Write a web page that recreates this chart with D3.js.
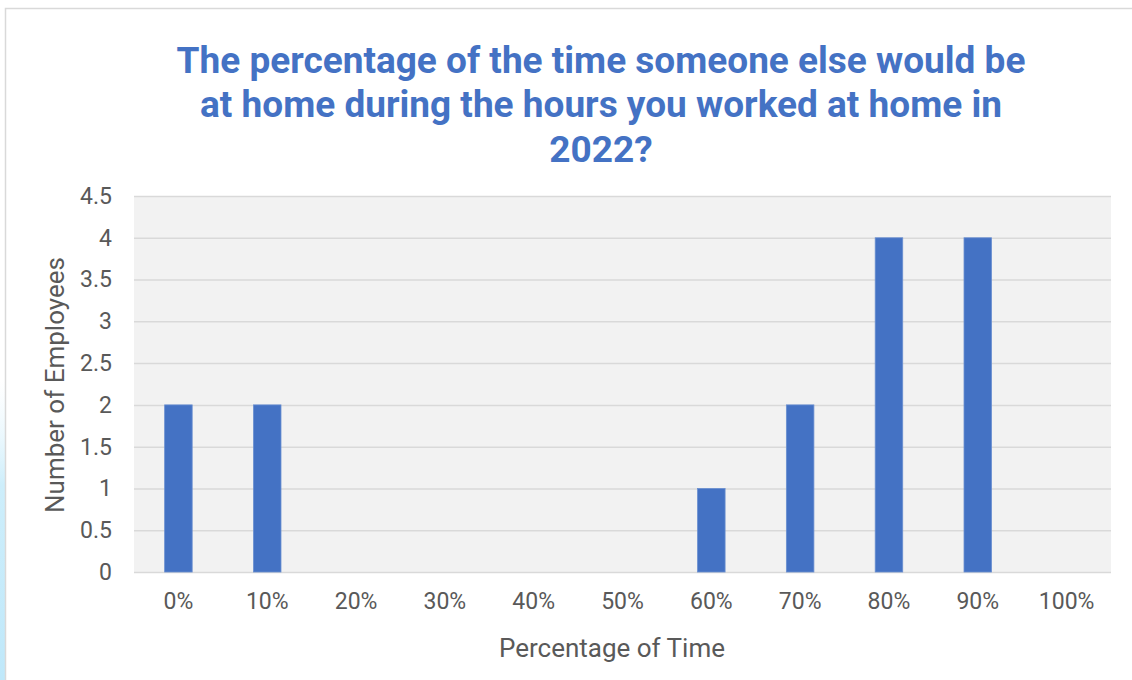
<!DOCTYPE html>
<html>
<head>
<meta charset="utf-8">
<script src="https://cdn.jsdelivr.net/npm/d3@7"></script>
<style>
  html, body { margin: 0; padding: 0; background: #ffffff; }
  svg { display: block; font-family: Roboto, "Open Sans", sans-serif; }
</style>
</head>
<body>
<svg id="chart" width="1132" height="680"></svg>
<script>
// Share of time someone else was at home, and how many employees gave each answer
const categories = ["0%", "10%", "20%", "30%", "40%", "50%", "60%", "70%", "80%", "90%", "100%"];
const employees = [2, 2, 0, 0, 0, 0, 1, 2, 4, 4, 0];
const yTicks = [0, 0.5, 1, 1.5, 2, 2.5, 3, 3.5, 4, 4.5];
const titleLines = [
  "The percentage of the time someone else would be",
  "at home during the hours you worked at home in",
  "2022?"
];
const xTitle = "Percentage of Time";
const yTitle = "Number of Employees";

const svg = d3.select("#chart");
const W = 1132, H = 680;
const plot = { left: 134, right: 1111, top: 196, bottom: 572 };

// Soft blue edge along the lower left corner
const defs = svg.append("defs");
const glow = defs.append("linearGradient").attr("id", "edgeGlow")
  .attr("x1", 0).attr("y1", 0).attr("x2", 0).attr("y2", 1);
glow.append("stop").attr("offset", "0").attr("stop-color", "#e6f6fd").attr("stop-opacity", 0);
glow.append("stop").attr("offset", "0.35").attr("stop-color", "#cdeefb").attr("stop-opacity", 1);
glow.append("stop").attr("offset", "1").attr("stop-color", "#bfe8fa").attr("stop-opacity", 1);
svg.append("rect").attr("x", 0).attr("y", 380).attr("width", 5).attr("height", 300)
  .attr("fill", "url(#edgeGlow)");

// Chart frame
svg.append("path")
  .attr("d", `M5.5,${H} V8.5 H${W}`)
  .attr("fill", "none").attr("stroke", "#d9d9d9").attr("stroke-width", 1.5);

const x = d3.scaleBand().domain(categories).range([plot.left, plot.right]).paddingInner(0.69).paddingOuter(0.345);
const y = d3.scaleLinear().domain([0, 4.5]).range([plot.bottom, plot.top]);

// Plot background
svg.append("rect")
  .attr("x", plot.left).attr("y", plot.top)
  .attr("width", plot.right - plot.left).attr("height", plot.bottom - plot.top)
  .attr("fill", "#f2f2f2");

// Horizontal gridlines with value labels
const yAxis = d3.axisLeft(y).tickValues(yTicks).tickSize(-(plot.right - plot.left)).tickPadding(22)
  .tickFormat(d3.format("~g"));
const gy = svg.append("g").attr("transform", `translate(${plot.left},0)`).call(yAxis);
gy.select(".domain").remove();
gy.selectAll(".tick line").attr("stroke", "#d9d9d9").attr("stroke-width", 1.5);
gy.selectAll(".tick text").attr("fill", "#595959").attr("font-size", 23)
  .attr("font-family", "Roboto, sans-serif");

// Bars
svg.append("g").selectAll("rect").data(categories.map((c, i) => ({ c, v: employees[i] })))
  .join("rect")
  .attr("x", d => x(d.c))
  .attr("y", d => y(d.v))
  .attr("width", x.bandwidth())
  .attr("height", d => y(0) - y(d.v))
  .attr("fill", "#4472c4")
  .attr("stroke", "#6a8fd0").attr("stroke-width", 0.8);

// Category labels
const xAxis = d3.axisBottom(x).tickSize(0).tickPadding(21);
const gx = svg.append("g").attr("transform", `translate(0,${plot.bottom})`).call(xAxis);
gx.select(".domain").remove();
gx.selectAll(".tick text").attr("fill", "#595959").attr("font-size", 23)
  .attr("font-family", "Roboto, sans-serif");

// Axis titles
svg.append("text")
  .attr("x", 612).attr("y", 657)
  .attr("text-anchor", "middle").attr("fill", "#595959").attr("font-size", 26)
  .text(xTitle);
svg.append("text")
  .attr("transform", `translate(64,${(plot.top + plot.bottom) / 2 + 1}) rotate(-90)`)
  .attr("text-anchor", "middle").attr("fill", "#595959").attr("font-size", 26)
  .text(yTitle);

// Chart title
svg.append("g").selectAll("text").data(titleLines).join("text")
  .attr("x", 601).attr("y", (d, i) => 72.5 + i * 44.5)
  .attr("text-anchor", "middle").attr("fill", "#4472c4")
  .attr("font-size", 37).attr("font-weight", "bold")
  .text(d => d);
</script>
</body>
</html>
